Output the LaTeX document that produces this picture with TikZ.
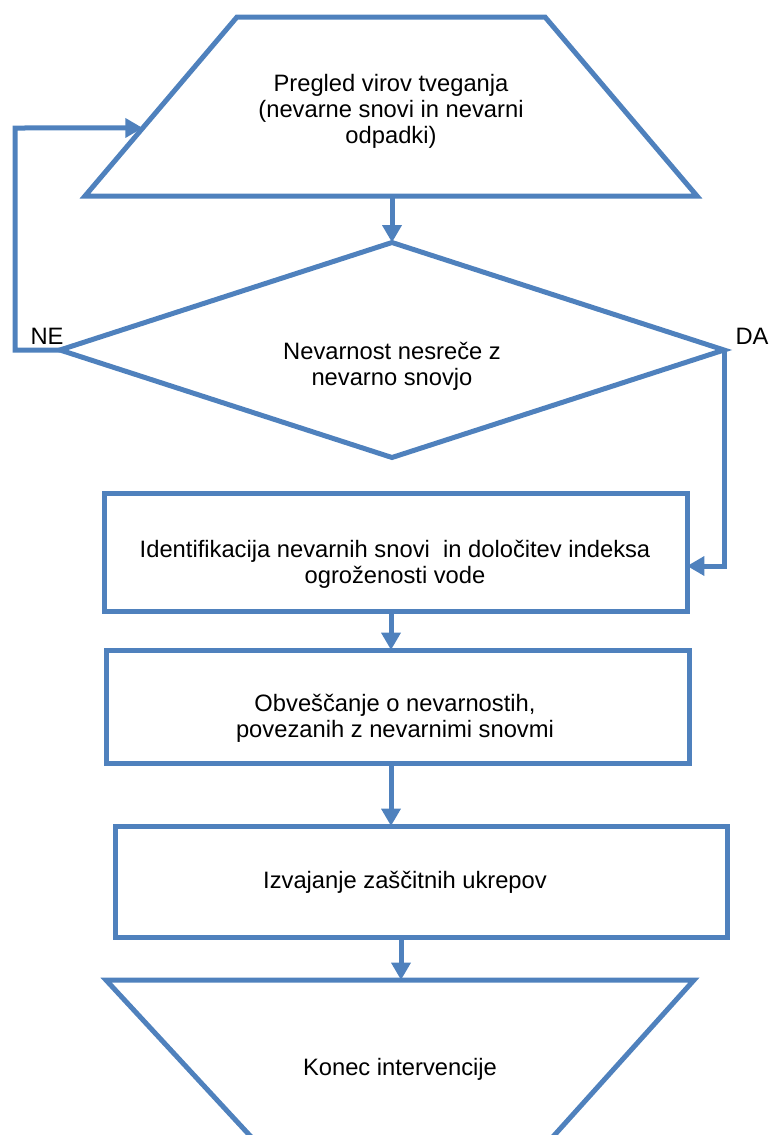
\documentclass[tikz,border=0pt]{standalone}
\usepackage{fontspec}
\setmainfont{Liberation Sans}
\usetikzlibrary{arrows.meta,shapes.geometric,calc}
\definecolor{flowblue}{RGB}{79,129,189}

\begin{document}
\begin{tikzpicture}[x=0.75pt, y=-0.75pt, line width=3.75pt,
    lbl/.style={align=center, font=\fontsize{17.8pt}{19.5pt}\selectfont},
    box/.style={draw=flowblue, rectangle, inner sep=0pt, outer sep=0pt},
    flow/.style={draw=flowblue, -{Triangle[length=13pt,width=14pt]}, flowblue}]
    \useasboundingbox (0,0) rectangle (771,1135);
    % top shape
    \coordinate (stl) at (237,17);
    \coordinate (str) at (545,17);
    \coordinate (sbr) at (697,196);
    \coordinate (sbl) at (85,196);
    \draw[flowblue] (stl) -- (str) -- (sbr) -- (sbl) -- cycle;
    \node[lbl] (pregled) at (391,111) {Pregled virov tveganja\\(nevarne snovi in nevarni\\odpadki)};
    % decision
    \node[box, diamond, minimum width=498pt, minimum height=161.25pt] (dec) at (392,350) {};
    \node[lbl] (nevarnost) at (392,366) {Nevarnost nesreče z\\nevarno snovjo};
    \node[lbl] (ne) at (47,336) {NE};
    \node[lbl] (da) at (752,336) {DA};
    % boxes
    \node[box, minimum width=437.25pt, minimum height=88.5pt] (b1) at (395.5,552) {};
    \node[lbl] (ident) at (395,564) {Identifikacija nevarnih snovi~ in določitev indeksa\\ogroženosti vode};
    \node[box, minimum width=437.25pt, minimum height=84.75pt] (b2) at (397.5,706.5) {};
    \node[lbl] (obv) at (395,718) {Obveščanje o nevarnostih,\\povezanih z nevarnimi snovmi};
    \node[box, minimum width=459pt, minimum height=83.25pt] (b3) at (421,881.5) {};
    \node[lbl] (ukrepi) at (405,882) {Izvajanje zaščitnih ukrepov};
    % end shape
    \coordinate (etl) at (106,980);
    \coordinate (etr) at (694,980);
    \coordinate (ebl) at (254,1140);
    \coordinate (ebr) at (550,1140);
    \draw[flowblue] (ebl) -- (etl) -- (etr) -- (ebr);
    \node[lbl] (konec) at (400,1069) {Konec intervencije};
    % connectors
    \coordinate (spine) at (391,0);
    \coordinate (spineb) at (401,0);
    \coordinate (loopl) at (15,128);
    \coordinate (retin) at ($(stl)!0.62!(sbl)$);
    \coordinate (daturn) at (724,566);
    \draw[flow] (dec.north |- sbl) -- (dec.north);
    \draw[flow] (dec.west) -- (dec.west -| loopl) -- (loopl) -- (retin);
    \draw[flow] (dec.east) -- (daturn) -- (daturn -| b1.east);
    \draw[flow] (b1.south -| spine) -- (b2.north -| spine);
    \draw[flow] (b2.south -| spine) -- (b3.north -| spine);
    \draw[flow] (b3.south -| spineb) -- (etl -| spineb);
\end{tikzpicture}
\end{document}
